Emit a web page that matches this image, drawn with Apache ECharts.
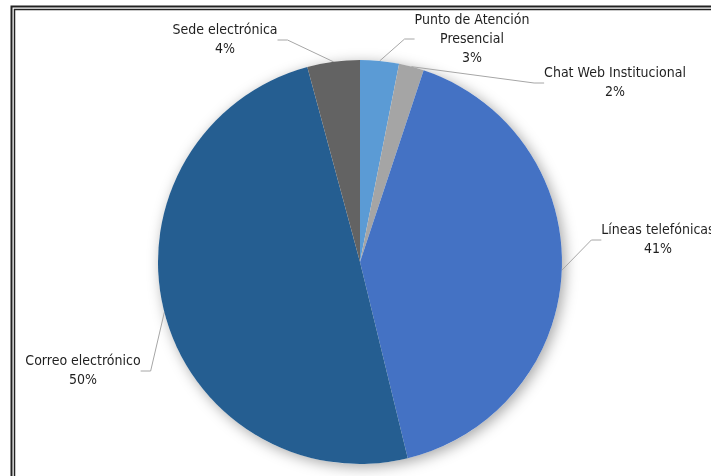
<!DOCTYPE html>
<html><head><meta charset="utf-8">
<script src="https://cdn.jsdelivr.net/npm/echarts@6/dist/echarts.min.js"></script>
<style>html,body{margin:0;padding:0;background:#fff}#c{width:711px;height:476px}</style>
</head><body><div id="c"></div>
<script>
const categories = ['Punto de Atención\nPresencial', 'Chat Web Institucional', 'Líneas telefónicas', 'Correo electrónico', 'Sede electrónica'];
const values = [3.1, 2.0, 41.1, 49.6, 4.2];
const colors = ['#5B9BD5', '#A5A5A5', '#4472C4', '#255E91', '#636363'];
// label anchor positions (center of label block)
const labelPos = [[472, 39], [615, 83], [658, 240], [83, 371], [225, 40]];

const chart = echarts.init(document.getElementById('c'), null, {renderer: 'canvas'});
const font = "'Liberation Sans Narrow','Arial Narrow','DejaVu Sans Condensed',sans-serif";
chart.setOption({
  animation: false,
  graphic: [
    {type: 'rect', shape: {x: 11.5, y: 6.5, width: 720, height: 500}, style: {fill: 'none', stroke: '#222', lineWidth: 2}, z: 10},
    {type: 'rect', shape: {x: 14.5, y: 9.5, width: 720, height: 500}, style: {fill: 'none', stroke: '#222', lineWidth: 1.5}, z: 10}
  ],
  series: [
    {
      type: 'pie', silent: true, center: [360, 262], radius: 202, z: 1,
      label: {show: false}, labelLine: {show: false},
      itemStyle: {color: '#fff', shadowBlur: 14, shadowColor: 'rgba(0,0,0,0.35)', shadowOffsetX: 3, shadowOffsetY: 3},
      data: [{value: 1, name: 'bg'}]
    },
    {
      type: 'pie', center: [360, 262], radius: 202, startAngle: 90, clockwise: true, z: 2,
      itemStyle: {borderWidth: 0},
      data: categories.map((c, i) => ({name: c, value: values[i], itemStyle: {color: colors[i]}})),
      label: {
        show: true, position: 'outside', fontFamily: font, fontSize: 14, color: '#1f1f1f', lineHeight: 19, align: 'center',
        overflow: 'none',
        formatter: p => p.name + '\n' + Math.round(p.value) + '%'
      },
      labelLine: {show: true, length: 10, length2: 10, lineStyle: {color: '#A6A6A6', width: 1}},
      labelLayout: p => ({x: labelPos[p.dataIndex][0], y: labelPos[p.dataIndex][1], align: 'center', verticalAlign: 'middle'})
    }
  ]
});
</script></body></html>
